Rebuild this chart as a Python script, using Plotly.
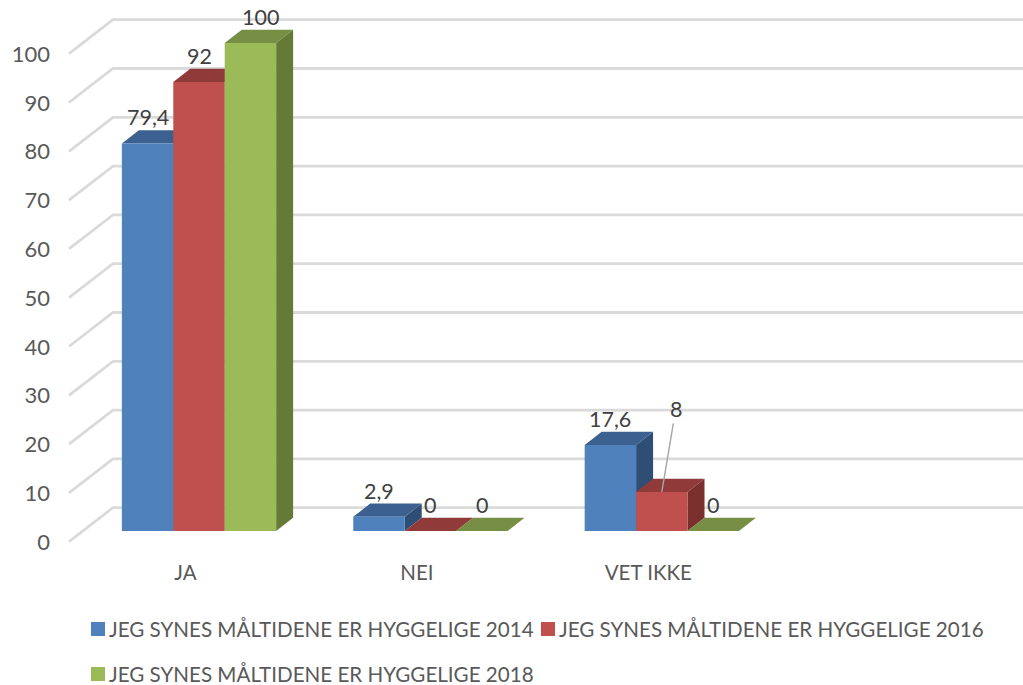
import plotly.graph_objects as go

# ---- data ----
categories = ["JA", "NEI", "VET IKKE"]
series_names = [
    "JEG SYNES MÅLTIDENE ER HYGGELIGE 2014",
    "JEG SYNES MÅLTIDENE ER HYGGELIGE 2016",
    "JEG SYNES MÅLTIDENE ER HYGGELIGE 2018",
]
values_2014 = [79.4, 2.9, 17.6]
values_2016 = [92, 0, 8]
values_2018 = [100, 0, 0]
axis_ticks = [0, 10, 20, 30, 40, 50, 60, 70, 80, 90, 100]

# ---- styling ----
W, H = 1023, 685
PX_X = 231.4          # pixels per category
PX_Y = 4.88           # pixels per value unit
X0_PX, Y0_PX = 199.0, 531.0
FONT = "Lato"
front = ["#4F81BD", "#C0504D", "#9BBB59"]
top = ["#3C6190", "#903B39", "#768F44"]
side = ["#2F4E75", "#7A2F2D", "#657A36"]
BAR_W = 2 / 9
dx = 17 / PX_X
dy = 13.3 / PX_Y
floor_front_x, floor_back_x = (69 - X0_PX) / PX_X, (113 - X0_PX) / PX_X
floor_front_drop = 10.7 / PX_Y
wall_rise = 34 / PX_Y
x_min, x_max = -X0_PX / PX_X, (W - X0_PX) / PX_X
y_min, y_max = (Y0_PX - H) / PX_Y, Y0_PX / PX_Y

all_values = [values_2014, values_2016, values_2018]
fig = go.Figure()

# walls: one side line + back line per tick
for t in axis_ticks:
    yf = t - floor_front_drop
    fig.add_trace(go.Scatter(
        x=[floor_front_x, floor_back_x, x_max], y=[yf, yf + wall_rise, yf + wall_rise],
        mode="lines", line=dict(color="#DADADA", width=2.8),
        showlegend=False, hoverinfo="skip"))

# depth faces
for s, vals in enumerate(all_values):
    for c, v in enumerate(vals):
        l = c + (s - 1) * BAR_W - BAR_W / 2
        r = l + BAR_W
        if v > 0:
            fig.add_trace(go.Scatter(
                x=[r, r + dx, r + dx, r, r], y=[0, dy, v + dy, v, 0],
                fill="toself", fillcolor=side[s], mode="lines", line=dict(width=0, color=side[s]),
                showlegend=False, hoverinfo="skip"))
        fig.add_trace(go.Scatter(
            x=[l, r, r + dx, l + dx, l], y=[v, v, v + dy, v + dy, v],
            fill="toself", fillcolor=top[s], mode="lines", line=dict(width=0, color=top[s]),
            showlegend=False, hoverinfo="skip"))

# front faces
for s, vals in enumerate(all_values):
    fig.add_trace(go.Bar(x=list(range(len(categories))), y=vals, name=series_names[s],
                         marker=dict(color=front[s], line=dict(width=0)),
                         showlegend=False, zorder=5))

# data labels
label_shift = {(2, 0): 10}
for s, vals in enumerate(all_values):
    for c, v in enumerate(vals):
        if (s, c) == (1, 2):
            continue
        fig.add_annotation(x=c + (s - 1) * BAR_W, y=v + dy, text=str(v).replace(".", ","),
                           showarrow=False, yshift=13, xshift=label_shift.get((s, c), 0),
                           font=dict(family=FONT, size=21.5, color="#404040"))
fig.add_annotation(x=2, y=values_2016[2], text=str(values_2016[2]), showarrow=True,
                   arrowhead=0, arrowwidth=1.4, arrowcolor="#A6A6A6", ax=14, ay=-83,
                   standoff=0, startstandoff=0,
                   font=dict(family=FONT, size=21.5, color="#404040"))

# legend drawn to the reference's layout
legend_pos = [(91, 629), (541, 629), (91, 674)]
for s, (px, py) in enumerate(legend_pos):
    fig.add_shape(type="rect", xref="paper", yref="paper", x0=px / W, x1=(px + 14) / W,
                  y0=1 - (py + 7) / H, y1=1 - (py - 7) / H,
                  fillcolor=front[s], line=dict(width=0))
    fig.add_annotation(xref="paper", yref="paper", x=(px + 16) / W, y=1 - py / H,
                       xanchor="left", yanchor="middle", showarrow=False, text=series_names[s],
                       font=dict(family=FONT, size=20.6, color="#595959"))

fig.update_layout(
    width=W, height=H, margin=dict(l=0, r=0, t=0, b=0, pad=0),
    paper_bgcolor="white", plot_bgcolor="white",
    barmode="group", bargap=1 / 3, bargroupgap=0,
    showlegend=False,
    font=dict(family=FONT, color="#595959", size=20),
    xaxis=dict(range=[x_min, x_max], domain=[0, 1], showgrid=False, zeroline=False, showline=False,
               tickmode="array", tickvals=[i - 13.5 / PX_X for i in range(len(categories))],
               ticktext=categories, ticks="", anchor="free", position=1 - 558 / H,
               tickfont=dict(family=FONT, size=20.5, color="#595959")),
    yaxis=dict(range=[y_min, y_max], domain=[0, 1], showgrid=False, zeroline=False, showline=False,
               tickmode="array", tickvals=[t - floor_front_drop - 0.3 / PX_Y for t in axis_ticks],
               ticktext=[str(t) for t in axis_ticks], ticks="", anchor="free", position=50 / W,
               tickfont=dict(family=FONT, size=22, color="#595959")),
)

fig.write_html("out.html", config={"displayModeBar": False},
               post_script="document.body.style.margin='0';")
